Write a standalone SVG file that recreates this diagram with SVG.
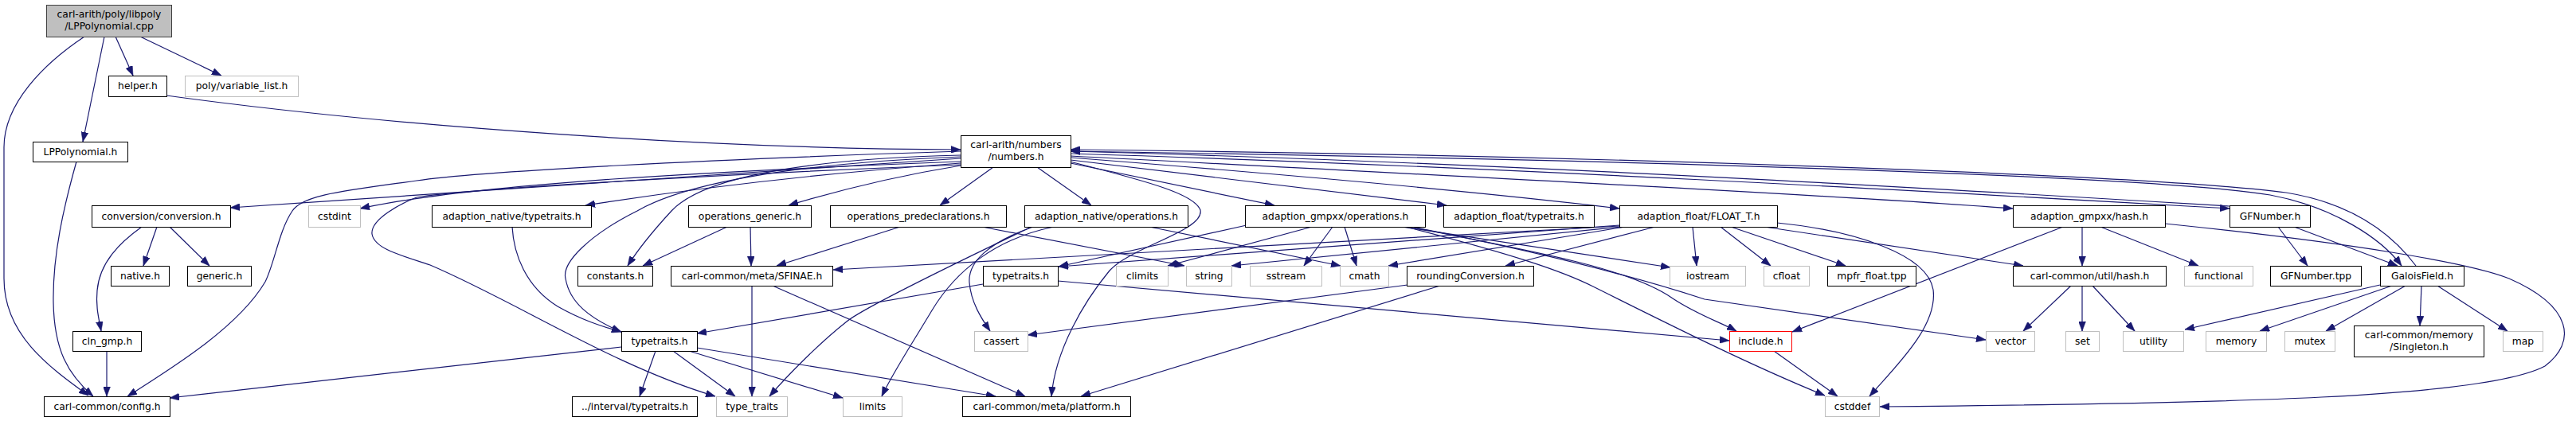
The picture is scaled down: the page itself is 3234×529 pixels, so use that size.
<svg xmlns="http://www.w3.org/2000/svg" width="3234" height="529" viewBox="0 0 3234 529">
<style>
.b{fill:#fff;stroke:#000;stroke-width:1}
.g{fill:#fff;stroke:#bfbfbf;stroke-width:1}
.r{fill:#fff;stroke:#ff0000;stroke-width:1}
.root{fill:#bfbfbf;stroke:#404040;stroke-width:1}
text{font-family:"DejaVu Sans","Liberation Sans",sans-serif;font-size:12.3px;fill:#000;text-anchor:middle}
.e path{fill:none;stroke:#191970;stroke-width:1.2;marker-end:url(#ah)}
</style>
<defs>
<marker id="ah" markerUnits="userSpaceOnUse" markerWidth="12" markerHeight="9" refX="12" refY="4.5" orient="auto">
<path d="M0,0 L12,4.5 L0,9 z" fill="#191970" stroke="#191970" stroke-width="0.5"/>
</marker>
</defs>
<rect width="3234" height="529" fill="#fff"/>
<g id="edges" class="e">
<path d="M106,46 C55,80 5,130 5,185 L5,350 C5,420 60,460 111,497"/>
<path d="M131,46 L104,178"/>
<path d="M145,46 L167,95"/>
<path d="M176,46 L278,95"/>
<path d="M209,120 C500,160 900,187 1206,188"/>
<path d="M96,203 C80,260 66,320 67,380 C68,440 85,470 117,498"/>
<path d="M1206,199 L289,261"/>
<path d="M1206,203 C900,215 600,230 452,262"/>
<path d="M1206,205 C1000,220 850,240 735,258"/>
<path d="M1206,208 C1120,222 1050,240 990,258"/>
<path d="M1206,195 C1000,200 880,225 843,265 C820,290 800,315 788,334"/>
<path d="M1206,197 C1000,205 860,230 800,265 C740,295 705,330 710,350 C715,380 740,400 780,417"/>
<path d="M1206,190 C900,200 600,215 523,227 C430,240 380,245 367,265 C350,290 345,330 333,354 C300,410 220,460 160,498"/>
<path d="M1206,207 C1000,215 600,235 523,248 C505,255 465,275 467,294 C470,312 500,320 540,333 C650,380 770,460 898,498"/>
<path d="M1247,210 L1180,258"/>
<path d="M1302,210 L1370,258"/>
<path d="M1344,205 L1600,258"/>
<path d="M1343,203 C1450,230 1500,245 1507,264 C1512,290 1420,310 1393,340 C1360,380 1325,440 1320,498"/>
<path d="M1344,201 L1816,258"/>
<path d="M1344,198 C1600,218 1850,240 2033,262"/>
<path d="M1344,196 C1800,220 2300,245 2527,262"/>
<path d="M1344,193 C1900,210 2500,245 2799,262"/>
<path d="M2799,259 C2500,241 1900,205 1344,190"/>
<path d="M1344,190 C2000,200 2700,220 2850,245 C2930,260 2990,300 3015,334"/>
<path d="M3033,334 C3000,290 2950,255 2870,242 C2700,220 2000,195 1344,188"/>
<path d="M178,285 C150,305 125,330 122,365 C120,385 124,400 127,416"/>
<path d="M197,285 L180,334"/>
<path d="M213,285 L263,334"/>
<path d="M134,441 L134,498"/>
<path d="M643,285 C645,320 660,360 700,385 C730,402 755,410 780,417"/>
<path d="M913,285 L807,334"/>
<path d="M942,285 L943,334"/>
<path d="M1130,285 L975,334"/>
<path d="M1233,285 L1487,334"/>
<path d="M1297,285 C1240,305 1215,330 1217,355 C1219,380 1232,400 1243,416"/>
<path d="M1323,285 C1250,300 1200,340 1170,390 C1140,440 1120,470 1107,498"/>
<path d="M1295,285 C1180,340 1080,390 1063,404 C1030,430 990,470 966,498"/>
<path d="M1443,285 L1683,334"/>
<path d="M944,359 L944,498"/>
<path d="M970,359 L1287,498"/>
<path d="M823,441 L803,498"/>
<path d="M845,441 L923,498"/>
<path d="M865,441 L1058,500"/>
<path d="M875,437 L1250,498"/>
<path d="M780,436 L213,500"/>
<path d="M1234,357 L875,419"/>
<path d="M1328,353 L2171,428"/>
<path d="M1565,283 L1329,335"/>
<path d="M2033,283 L1329,335"/>
<path d="M2033,284 L1046,339"/>
<path d="M2035,285 L1546,334"/>
<path d="M1647,285 L1466,334"/>
<path d="M1673,285 L1637,334"/>
<path d="M1688,285 L1703,334"/>
<path d="M2040,285 L1743,334"/>
<path d="M2078,285 L1890,334"/>
<path d="M2125,285 L2130,334"/>
<path d="M2160,285 L2223,334"/>
<path d="M2173,285 L2317,334"/>
<path d="M2215,285 L2540,334"/>
<path d="M2231,280 C2330,290 2420,320 2427,364 C2433,410 2380,460 2347,498"/>
<path d="M1760,285 L2097,336"/>
<path d="M1772,285 C1950,320 2060,350 2140,376 L2493,427"/>
<path d="M1770,285 C1950,320 2050,340 2100,375 C2130,395 2160,405 2180,416"/>
<path d="M1765,285 C1900,320 1960,340 2000,360 C2100,410 2200,460 2291,497"/>
<path d="M2590,285 L2250,417"/>
<path d="M2614,285 L2614,334"/>
<path d="M2637,285 L2760,334"/>
<path d="M2718,281 C2950,305 3100,330 3150,350 C3230,385 3235,430 3195,460 C3120,500 2800,507 2360,511"/>
<path d="M2600,359 L2540,416"/>
<path d="M2614,359 L2614,416"/>
<path d="M2627,359 L2680,416"/>
<path d="M2227,441 L2307,498"/>
<path d="M2860,285 L2897,334"/>
<path d="M2880,285 L3010,334"/>
<path d="M2988,358 L2743,414"/>
<path d="M3003,359 L2837,416"/>
<path d="M3020,359 L2920,416"/>
<path d="M3040,359 L3038,409"/>
<path d="M3060,359 L3148,416"/>
<path d="M1767,358 L1290,421"/>
<path d="M1808,359 L1357,498"/>
</g>
<g id="n_root"><rect class="root" x="58.5" y="6.5" width="157" height="40"/><text x="137" y="21.7">carl-arith/poly/libpoly</text><text x="137" y="36.7">/LPPolynomial.cpp</text></g>
<g id="n_helper"><rect class="b" x="136.5" y="95.5" width="73" height="26"/><text x="173" y="112">helper.h</text></g>
<g id="n_varlist"><rect class="g" x="232.5" y="95.5" width="142" height="26"/><text x="303.5" y="112">poly/variable_list.h</text></g>
<g id="n_lppolyh"><rect class="b" x="41.5" y="178.5" width="119" height="25"/><text x="101" y="195">LPPolynomial.h</text></g>
<g id="n_numbers"><rect class="b" x="1206.5" y="170.5" width="138" height="40"/><text x="1275.5" y="186">carl-arith/numbers</text><text x="1275.5" y="201">/numbers.h</text></g>
<g id="n_conversion"><rect class="b" x="115.5" y="258.5" width="174" height="27"/><text x="202.5" y="276">conversion/conversion.h</text></g>
<g id="n_cstdint"><rect class="g" x="387.5" y="258.5" width="65" height="27"/><text x="420" y="276">cstdint</text></g>
<g id="n_antypetraits"><rect class="b" x="542.5" y="258.5" width="200" height="27"/><text x="642.5" y="276">adaption_native/typetraits.h</text></g>
<g id="n_opgeneric"><rect class="b" x="864.5" y="258.5" width="154" height="27"/><text x="941.5" y="276">operations_generic.h</text></g>
<g id="n_oppredecl"><rect class="b" x="1042.5" y="258.5" width="221" height="27"/><text x="1153" y="276">operations_predeclarations.h</text></g>
<g id="n_anops"><rect class="b" x="1286.5" y="258.5" width="205" height="27"/><text x="1389" y="276">adaption_native/operations.h</text></g>
<g id="n_gmpops"><rect class="b" x="1563.5" y="258.5" width="226" height="27"/><text x="1676.5" y="276">adaption_gmpxx/operations.h</text></g>
<g id="n_aftypetraits"><rect class="b" x="1812.5" y="258.5" width="189" height="27"/><text x="1907" y="276">adaption_float/typetraits.h</text></g>
<g id="n_floatt"><rect class="b" x="2033.5" y="258.5" width="198" height="27"/><text x="2132.5" y="276">adaption_float/FLOAT_T.h</text></g>
<g id="n_gmphash"><rect class="b" x="2527.5" y="258.5" width="191" height="27"/><text x="2623" y="276">adaption_gmpxx/hash.h</text></g>
<g id="n_gfnumber"><rect class="b" x="2799.5" y="258.5" width="101" height="27"/><text x="2850" y="276">GFNumber.h</text></g>
<g id="n_native"><rect class="b" x="139.5" y="334.5" width="73" height="25"/><text x="176" y="351">native.h</text></g>
<g id="n_generic"><rect class="b" x="235.5" y="334.5" width="80" height="25"/><text x="275.5" y="351">generic.h</text></g>
<g id="n_constants"><rect class="b" x="725.5" y="334.5" width="94" height="25"/><text x="772.5" y="351">constants.h</text></g>
<g id="n_sfinae"><rect class="b" x="842.5" y="334.5" width="203" height="25"/><text x="944" y="351">carl-common/meta/SFINAE.h</text></g>
<g id="n_typetraits1"><rect class="b" x="1234.5" y="334.5" width="94" height="25"/><text x="1281.5" y="351">typetraits.h</text></g>
<g id="n_climits"><rect class="g" x="1401.5" y="334.5" width="65" height="25"/><text x="1434" y="351">climits</text></g>
<g id="n_string"><rect class="g" x="1489.5" y="334.5" width="57" height="25"/><text x="1518" y="351">string</text></g>
<g id="n_sstream"><rect class="g" x="1569.5" y="334.5" width="90" height="25"/><text x="1614.5" y="351">sstream</text></g>
<g id="n_cmath"><rect class="g" x="1682.5" y="334.5" width="61" height="25"/><text x="1713" y="351">cmath</text></g>
<g id="n_rounding"><rect class="b" x="1766.5" y="334.5" width="159" height="25"/><text x="1846" y="351">roundingConversion.h</text></g>
<g id="n_iostream"><rect class="g" x="2096.5" y="334.5" width="95" height="25"/><text x="2144" y="351">iostream</text></g>
<g id="n_cfloat"><rect class="g" x="2214.5" y="334.5" width="57" height="25"/><text x="2243" y="351">cfloat</text></g>
<g id="n_mpfr"><rect class="b" x="2294.5" y="334.5" width="111" height="25"/><text x="2350" y="351">mpfr_float.tpp</text></g>
<g id="n_utilhash"><rect class="b" x="2527.5" y="334.5" width="192" height="25"/><text x="2623.5" y="351">carl-common/util/hash.h</text></g>
<g id="n_functional"><rect class="g" x="2742.5" y="334.5" width="86" height="25"/><text x="2785.5" y="351">functional</text></g>
<g id="n_gftpp"><rect class="b" x="2850.5" y="334.5" width="114" height="25"/><text x="2907.5" y="351">GFNumber.tpp</text></g>
<g id="n_galois"><rect class="b" x="2988.5" y="334.5" width="105" height="25"/><text x="3041" y="351">GaloisField.h</text></g>
<g id="n_clngmp"><rect class="b" x="91.5" y="416.5" width="86" height="25"/><text x="134.5" y="433">cln_gmp.h</text></g>
<g id="n_typetraits2"><rect class="b" x="780.5" y="416.5" width="95" height="25"/><text x="828" y="433">typetraits.h</text></g>
<g id="n_cassert"><rect class="g" x="1223.5" y="416.5" width="67" height="25"/><text x="1257" y="433">cassert</text></g>
<g id="n_include"><rect class="r" x="2171.5" y="416.5" width="78" height="25"/><text x="2210.5" y="433">include.h</text></g>
<g id="n_vector"><rect class="g" x="2493.5" y="416.5" width="61" height="25"/><text x="2524" y="433">vector</text></g>
<g id="n_set"><rect class="g" x="2593.5" y="416.5" width="42" height="25"/><text x="2614.5" y="433">set</text></g>
<g id="n_utility"><rect class="g" x="2665.5" y="416.5" width="76" height="25"/><text x="2703.5" y="433">utility</text></g>
<g id="n_memory"><rect class="g" x="2769.5" y="416.5" width="76" height="25"/><text x="2807.5" y="433">memory</text></g>
<g id="n_mutex"><rect class="g" x="2868.5" y="416.5" width="63" height="25"/><text x="2900" y="433">mutex</text></g>
<g id="n_singleton"><rect class="b" x="2955.5" y="409.5" width="163" height="39"/><text x="3037" y="425">carl-common/memory</text><text x="3037" y="439.5">/Singleton.h</text></g>
<g id="n_map"><rect class="g" x="3142.5" y="416.5" width="50" height="25"/><text x="3167.5" y="433">map</text></g>
<g id="n_config"><rect class="b" x="55.5" y="498.5" width="158" height="25"/><text x="134.5" y="515">carl-common/config.h</text></g>
<g id="n_interval"><rect class="b" x="718.5" y="498.5" width="157" height="25"/><text x="797" y="515">../interval/typetraits.h</text></g>
<g id="n_type_traits"><rect class="g" x="899.5" y="498.5" width="89" height="25"/><text x="944" y="515">type_traits</text></g>
<g id="n_limits"><rect class="g" x="1058.5" y="498.5" width="74" height="25"/><text x="1095.5" y="515">limits</text></g>
<g id="n_platform"><rect class="b" x="1208.5" y="498.5" width="211" height="25"/><text x="1314" y="515">carl-common/meta/platform.h</text></g>
<g id="n_cstddef"><rect class="g" x="2291.5" y="498.5" width="68" height="25"/><text x="2325.5" y="515">cstddef</text></g>
</svg>
